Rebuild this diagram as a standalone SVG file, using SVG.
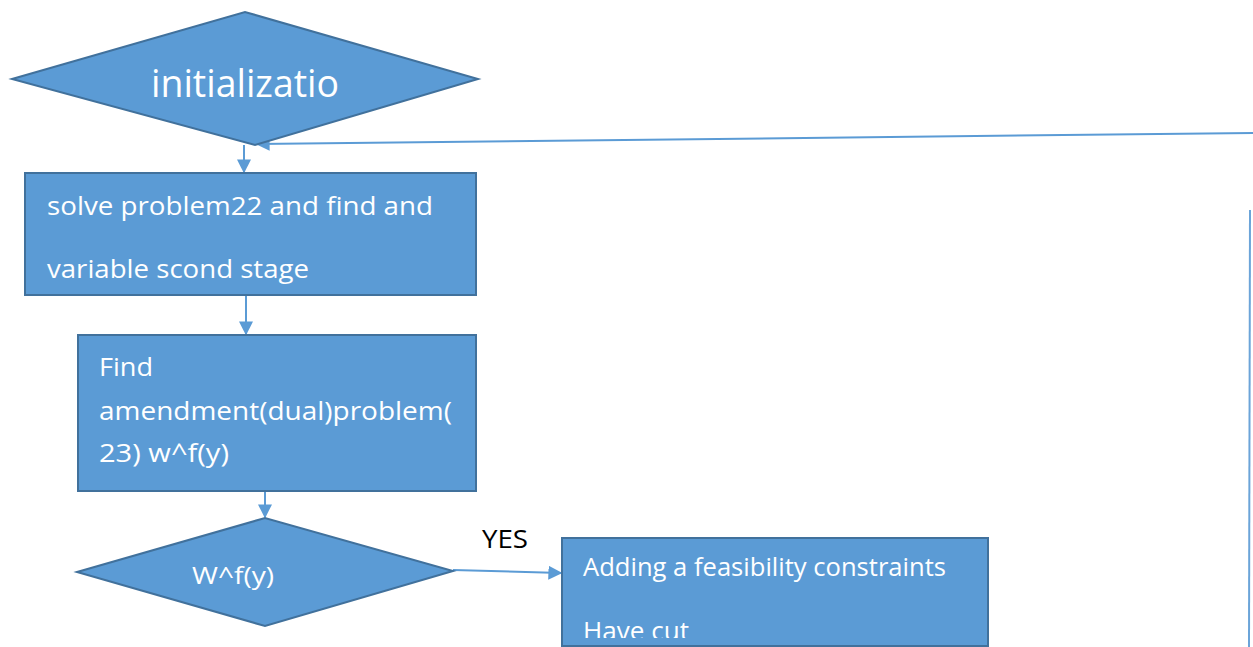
<svg xmlns="http://www.w3.org/2000/svg" width="1253" height="647" viewBox="0 0 1253 647">
<defs>
<style>
.shape{fill:#5B9BD5;stroke:#41719C;stroke-width:2}
.t{font-family:"Open Sans","Noto Sans","Liberation Sans",sans-serif;fill:#FFFFFF}
.conn{stroke:#5B9BD5;stroke-width:2;fill:none}
.lbl{font-family:"Open Sans","Noto Sans","Liberation Sans",sans-serif;fill:#000000;font-size:25px}
</style>
<marker id="arrL" viewBox="0 0 10 10" refX="9" refY="5" markerWidth="14" markerHeight="14" markerUnits="userSpaceOnUse" orient="auto">
<path d="M0,0 L10,5 L0,10 Z" fill="#5B9BD5"/>
</marker>
<clipPath id="clip3"><rect x="562" y="538" width="426" height="100"/></clipPath>
</defs>
<rect width="1253" height="647" fill="#FFFFFF"/>
<g id="connectors">
<line class="conn" x1="244" y1="145" x2="244" y2="172" marker-end="url(#arrL)"/>
<line class="conn" x1="246" y1="295" x2="246" y2="334" marker-end="url(#arrL)"/>
<line class="conn" x1="265" y1="491" x2="265" y2="517" marker-end="url(#arrL)"/>
<line class="conn" x1="453" y1="570" x2="561" y2="573" marker-end="url(#arrL)"/>
<line class="conn" x1="1253" y1="133" x2="257" y2="144" marker-end="url(#arrL)"/>
<line x1="1250" y1="210" x2="1249" y2="647" stroke="#5B9BD5" stroke-width="2" opacity="0.9"/>
</g>
<g id="node-init">
<polygon class="shape" points="12,79 245,12 478,79 255,145"/>
<text class="t" x="245" y="97" font-size="38" text-anchor="middle" textLength="188" lengthAdjust="spacingAndGlyphs">initializatio</text>
</g>
<g id="node-solve">
<rect class="shape" x="25" y="173" width="451" height="122"/>
<text class="t" x="47" y="215" font-size="26" textLength="386" lengthAdjust="spacingAndGlyphs">solve problem22 and find and</text>
<text class="t" x="47" y="278" font-size="26" textLength="262" lengthAdjust="spacingAndGlyphs">variable scond stage</text>
</g>
<g id="node-find">
<rect class="shape" x="78" y="335" width="398" height="156"/>
<text class="t" x="99" y="376" font-size="26" textLength="54" lengthAdjust="spacingAndGlyphs">Find</text>
<text class="t" x="99" y="420" font-size="26" textLength="353" lengthAdjust="spacingAndGlyphs">amendment(dual)problem(</text>
<text class="t" x="99" y="462" font-size="26" textLength="130" lengthAdjust="spacingAndGlyphs">23) w^f(y)</text>
</g>
<g id="node-decision">
<polygon class="shape" points="77,572 265,518 453,571 265,626"/>
<text class="t" x="192" y="584" font-size="24" textLength="82" lengthAdjust="spacingAndGlyphs">W^f(y)</text>
</g>
<g id="label-yes">
<text class="lbl" x="482" y="548" textLength="46" lengthAdjust="spacingAndGlyphs">YES</text>
</g>
<g id="node-adding">
<rect class="shape" x="562" y="538" width="426" height="108"/>
<g clip-path="url(#clip3)">
<text class="t" x="583" y="576" font-size="26" textLength="363" lengthAdjust="spacingAndGlyphs">Adding a feasibility constraints</text>
<text class="t" x="583" y="640" font-size="26" textLength="106" lengthAdjust="spacingAndGlyphs">Have cut</text>
</g>
</g>
</svg>
